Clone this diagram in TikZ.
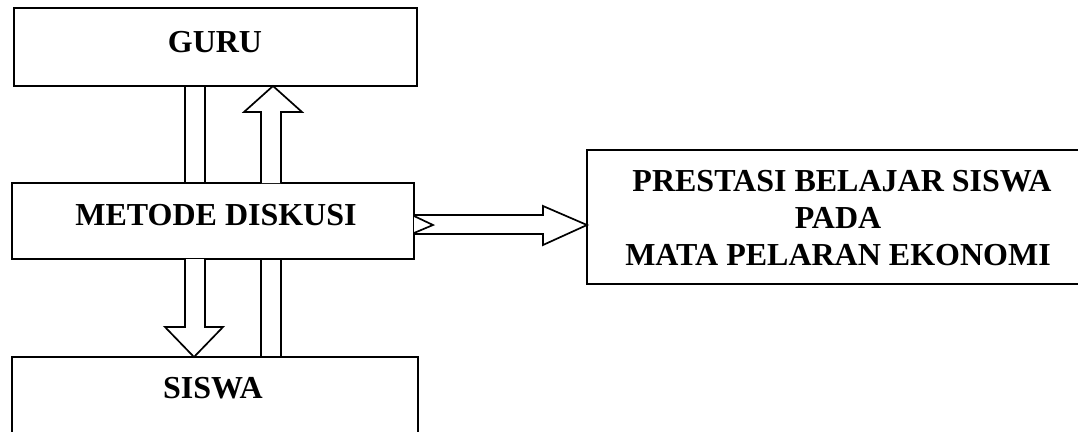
\documentclass[tikz,border=0pt]{standalone}
\usepackage{fontspec}
\setmainfont{Liberation Serif}
\usetikzlibrary{calc}
\begin{document}
\begin{tikzpicture}[x=1pt,y=-1pt,
  box/.style={draw=black, line width=1.8pt, rectangle, inner sep=0pt, outer sep=0pt, anchor=north west},
  openbox/.style={rectangle, inner sep=0pt, outer sep=0pt, anchor=north west},
  edge/.style={draw=black, line width=1.8pt, line join=miter},
  lbl/.style={font=\fontsize{32}{37}\selectfont\bfseries, inner sep=0pt, anchor=base},
  blk/.style={draw=black, line width=1.7pt, line join=miter, fill=white}]
\useasboundingbox (0,0) rectangle (1078,431);
% boxes
\node[box, minimum width=403pt, minimum height=78pt] (guru) at (14,8) {};
\node[box, minimum width=402pt, minimum height=76pt] (metode) at (12,183) {};
\node[openbox, minimum width=406pt, minimum height=80pt] (siswa) at (12,357) {};
\draw[edge] (siswa.south west) -- (siswa.north west) -- (siswa.north east) -- (siswa.south east);
\node[openbox, minimum width=491pt, minimum height=134pt] (prestasi) at (587,150) {};
\draw[edge] (prestasi.north east) -- (prestasi.north west) -- (prestasi.south west) -- (prestasi.south east);
% texts
\node[lbl] (gurut) at (215,52) {GURU};
\node[lbl] (metodet) at (216,225) {METODE DISKUSI};
\node[lbl] (siswat) at (213,398) {SISWA};
\node[lbl] (p1) at (842,191) {PRESTASI BELAJAR SISWA};
\node[lbl] (p2) at (838,228) {PADA};
\node[lbl] (p3) at (838,265) {MATA PELARAN EKONOMI};
% down arrow: guru -> siswa
\draw[blk] (185,0 |- guru.south) -- (185,0 |- metode.north);
\draw[blk] (205,0 |- guru.south) -- (205,0 |- metode.north);
\draw[blk] (185,0 |- metode.south) -- (185,327) -- (165,327) -- (194,0 |- siswa.north)
  -- (223,327) -- (205,327) -- (205,0 |- metode.south);
% up arrow: siswa -> guru
\draw[blk] (261,0 |- siswa.north) -- (261,0 |- metode.south);
\draw[blk] (281,0 |- siswa.north) -- (281,0 |- metode.south);
\draw[blk] (261,0 |- metode.north) -- (261,112) -- (244,112) -- (273,0 |- guru.south)
  -- (302,112) -- (281,112) -- (281,0 |- metode.north);
% right arrow: metode -> prestasi
\draw[blk] (metode.east |- 0,215) -- (543,215) -- (543,206) -- (prestasi.west |- 0,225)
  -- (543,245) -- (543,234) -- (metode.east |- 0,234);
\draw[blk, fill=none] (metode.east |- 0,216) -- (433,225) -- (metode.east |- 0,233);
\end{tikzpicture}
\end{document}
